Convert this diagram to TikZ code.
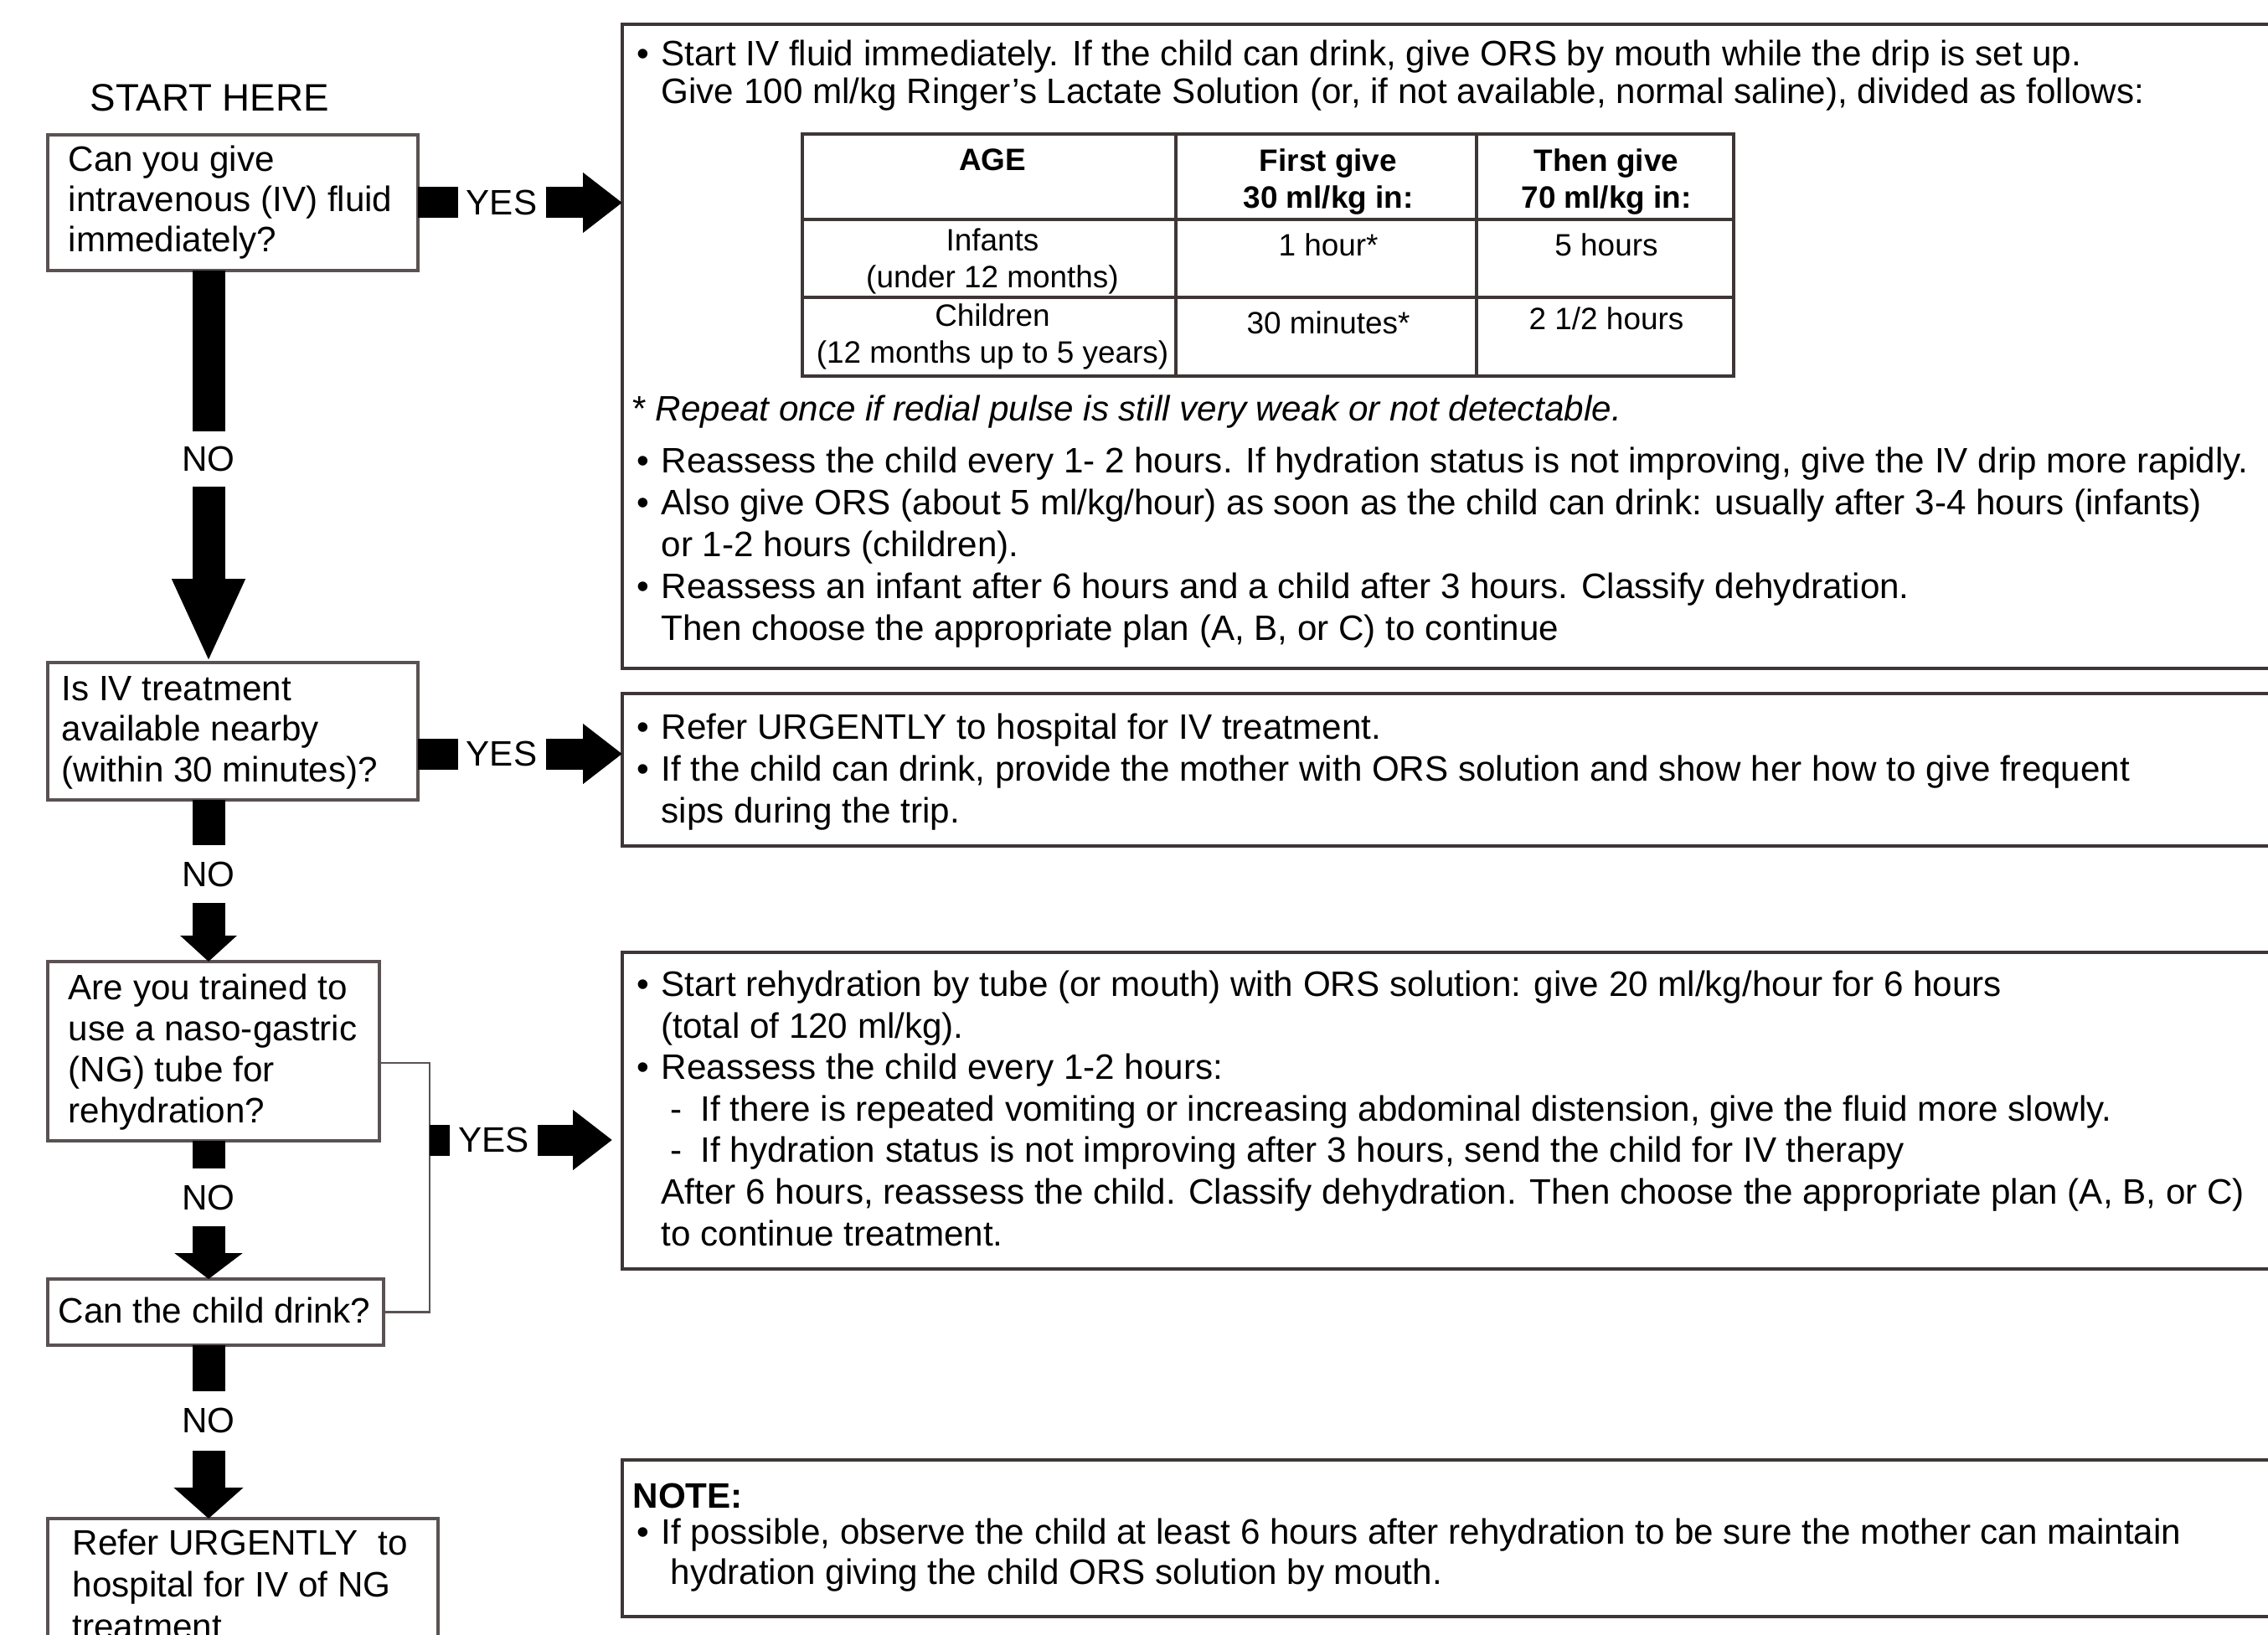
\documentclass[tikz,border=0pt]{standalone}
\usepackage{fontspec}
\setmainfont{Liberation Sans}
\usepackage{tikz}
\usetikzlibrary{arrows.meta,positioning}
\definecolor{boxline}{HTML}{3E3636}
\definecolor{qline}{HTML}{5A5252}
\newcommand{\bul}{\makebox[0.29cm][l]{\textbullet}}
\newcommand{\ind}{\hspace*{0.29cm}}
\newcommand{\subdash}{\hspace*{0.40cm}\makebox[0.36cm][l]{-}}

\begin{document}
\begin{tikzpicture}[
  qbox/.style={draw=qline,line width=0.9pt,anchor=north west,outer sep=0pt},
  rbox/.style={draw=boxline,line width=1.3pt,anchor=north west,outer sep=0pt,minimum width=20cm},
  qtxt/.style={anchor=base west,align=left,font=\fontsize{12pt}{13.7pt}\selectfont},
  rtxt/.style={anchor=base west,align=left,font=\fontsize{12pt}{14.1pt}\selectfont},
  ttxt/.style={anchor=base,align=center,font=\fontsize{10.5pt}{12.8pt}\selectfont},
  tabline/.style={draw=boxline,line width=1pt},
  bracket/.style={draw=qline,line width=0.8pt},
  fat/.style 2 args={line width=0.39cm,-{Triangle[length=#1,width=#2]}},
  yesarrow/.style={line width=0.37cm,-{Triangle[length=0.47cm,width=0.69cm]}},
  nolabel/.style={fill=white,minimum width=0.8cm,minimum height=#1,font=\fontsize{12pt}{14pt}\selectfont},
  yeslabel/.style={fill=white,minimum width=1.05cm,minimum height=0.5cm,font=\fontsize{12pt}{14pt}\selectfont}
]
\tikzstyle{every node}+=[inner sep=0pt]
\useasboundingbox (0,0) rectangle (27.08,-19.52);
\fill [white] (0,0) rectangle (27.08,-19.52);

\node [anchor=base west,font=\fontsize{13pt}{15pt}\selectfont] (start) at (1.07,-1.33) {START HERE};

\node [qbox,minimum width=4.42cm,minimum height=1.62cm] (q1) at (0.57,-1.61) {};
\node [qtxt] (q1t) at (0.81,-3.01) {Can you give\\intravenous (IV) fluid\\immediately?};
\node [qbox,minimum width=4.42cm,minimum height=1.64cm] (q2) at (0.57,-7.91) {};
\node [qtxt] (q2t) at (0.73,-9.33) {Is IV treatment\\available nearby\\(within 30 minutes)?};
\node [qbox,minimum width=3.96cm,minimum height=2.14cm] (q3) at (0.57,-11.48) {};
\node [qtxt,font=\fontsize{12pt}{13.9pt}\selectfont] (q3t) at (0.81,-13.40) {Are you trained to\\use a naso-gastric\\(NG) tube for\\rehydration?};
\node [qbox,minimum width=4.01cm,minimum height=0.79cm] (q4) at (0.57,-15.27) {};
\node [qtxt] (q4t) at (0.69,-15.79) {Can the child drink?};
\node [qbox,minimum width=4.66cm,minimum height=1.8cm] (q5) at (0.57,-18.13) {};
\node [qtxt,font=\fontsize{12pt}{14.1pt}\selectfont] (q5t) at (0.86,-19.56) {Refer URGENTLY\ \ to\\hospital for IV of NG\\treatment};

\node [rbox,minimum height=7.69cm] (r1) at (7.43,-0.29) {};
\node [rbox,minimum height=1.82cm] (r2) at (7.43,-8.28) {};
\node [rbox,minimum height=3.78cm] (r3) at (7.43,-11.37) {};
\node [rbox,minimum height=1.87cm] (r4) at (7.43,-17.43) {};

\node [rtxt,font=\fontsize{12pt}{13pt}\selectfont] (r1a) at (7.60,-1.24) {\bul Start IV fluid immediately. If the child can drink, give ORS by mouth while the drip is set up.\\\ind Give 100 ml/kg Ringer's Lactate Solution (or, if not available, normal saline), divided as follows:};
\draw [tabline] (9.58,-1.60) rectangle (20.70,-4.49);
\draw [tabline] (14.04,-1.60) -- (14.04,-4.49);
\draw [tabline] (17.63,-1.60) -- (17.63,-4.49);
\draw [tabline] (9.58,-2.62) -- (20.70,-2.62);
\draw [tabline] (9.58,-3.55) -- (20.70,-3.55);
\node [ttxt,font=\fontsize{10.5pt}{12.8pt}\selectfont\bfseries] (age) at (11.85,-2.04) {AGE};
\node [ttxt,font=\fontsize{10.5pt}{12.8pt}\selectfont\bfseries] (first) at (15.86,-2.49) {First give\\30 ml/kg in:};
\node [ttxt,font=\fontsize{10.5pt}{12.8pt}\selectfont\bfseries] (then) at (19.18,-2.49) {Then give\\70 ml/kg in:};
\node [ttxt] (infants) at (11.85,-3.44) {Infants\\(under 12 months)};
\node [ttxt] (inf1) at (15.86,-3.06) {1 hour*};
\node [ttxt] (inf2) at (19.18,-3.06) {5 hours};
\node [ttxt] (children) at (11.85,-4.34) {Children\\(12 months up to 5 years)};
\node [ttxt] (ch1) at (15.86,-3.99) {30 minutes*};
\node [ttxt] (ch2) at (19.18,-3.94) {2 1/2 hours};
\node [rtxt] (r1b) at (7.55,-5.03) {\makebox[0.27cm][l]{*}\textit{Repeat once if redial pulse is still very weak or not detectable.}};
\node [rtxt,font=\fontsize{12pt}{14.2pt}\selectfont] (r1c) at (7.60,-7.64) {\bul Reassess the child every 1- 2 hours. If hydration status is not improving, give the IV drip more rapidly.\\\bul Also give ORS (about 5 ml/kg/hour) as soon as the child can drink: usually after 3-4 hours (infants)\\\ind or 1-2 hours (children).\\\bul Reassess an infant after 6 hours and a child after 3 hours. Classify dehydration.\\\ind Then choose the appropriate plan (A, B, or C) to continue};

\node [rtxt] (r2t) at (7.60,-9.82) {\bul Refer URGENTLY to hospital for IV treatment.\\\bul If the child can drink, provide the mother with ORS solution and show her how to give frequent\\\ind sips during the trip.};

\node [rtxt] (r3t) at (7.60,-14.87) {\bul Start rehydration by tube (or mouth) with ORS solution: give 20 ml/kg/hour for 6 hours\\\ind (total of 120 ml/kg).\\\bul Reassess the child every 1-2 hours:\\\subdash If there is repeated vomiting or increasing abdominal distension, give the fluid more slowly.\\\subdash If hydration status is not improving after 3 hours, send the child for IV therapy\\\ind After 6 hours, reassess the child. Classify dehydration. Then choose the appropriate plan (A, B, or C)\\\ind to continue treatment.};

\node [rtxt,font=\fontsize{12pt}{14pt}\selectfont\bfseries] (note) at (7.55,-18.00) {NOTE:};
\node [rtxt,font=\fontsize{12pt}{13.4pt}\selectfont] (r4t) at (7.60,-18.91) {\bul If possible, observe the child at least 6 hours after rehydration to be sure the mother can maintain\\\hspace*{0.40cm}hydration giving the child ORS solution by mouth.};

\coordinate (spine) at (2.49,0);
\draw [fat={1.0cm}{0.80cm}] (q1.south -| spine) -- node [nolabel=0.66cm,pos=.48] {NO} (q2.north -| spine);
\draw [fat={0.31cm}{0.66cm}] (q2.south -| spine) -- node [nolabel=0.69cm,pos=.46] {NO} (q3.north -| spine);
\draw [fat={0.31cm}{0.80cm}] (q3.south -| spine) -- node [nolabel=0.69cm,pos=.41] {NO} (q4.north -| spine);
\draw [fat={0.37cm}{0.81cm}] (q4.south -| spine) -- node [nolabel=0.71cm,pos=.437] {NO} (q5.north -| spine);

\coordinate (yes2) at ([yshift=-0.27cm]q2.east);
\coordinate (join) at (5.13,-13.61);
\draw [yesarrow] (q1.east) -- node [yeslabel,pos=.41] {YES} (q1.east -| r1.west);
\draw [yesarrow] (yes2) -- node [yeslabel,pos=.41] {YES} (yes2 -| r2.west);
\draw [bracket] ([yshift=-0.14cm]q3.east) -| (join) |- (q4.east);
\draw [yesarrow,shorten >=0.12cm] (join) -- node [yeslabel,pos=.333] {YES} (join -| r3.west);
\end{tikzpicture}
\end{document}
